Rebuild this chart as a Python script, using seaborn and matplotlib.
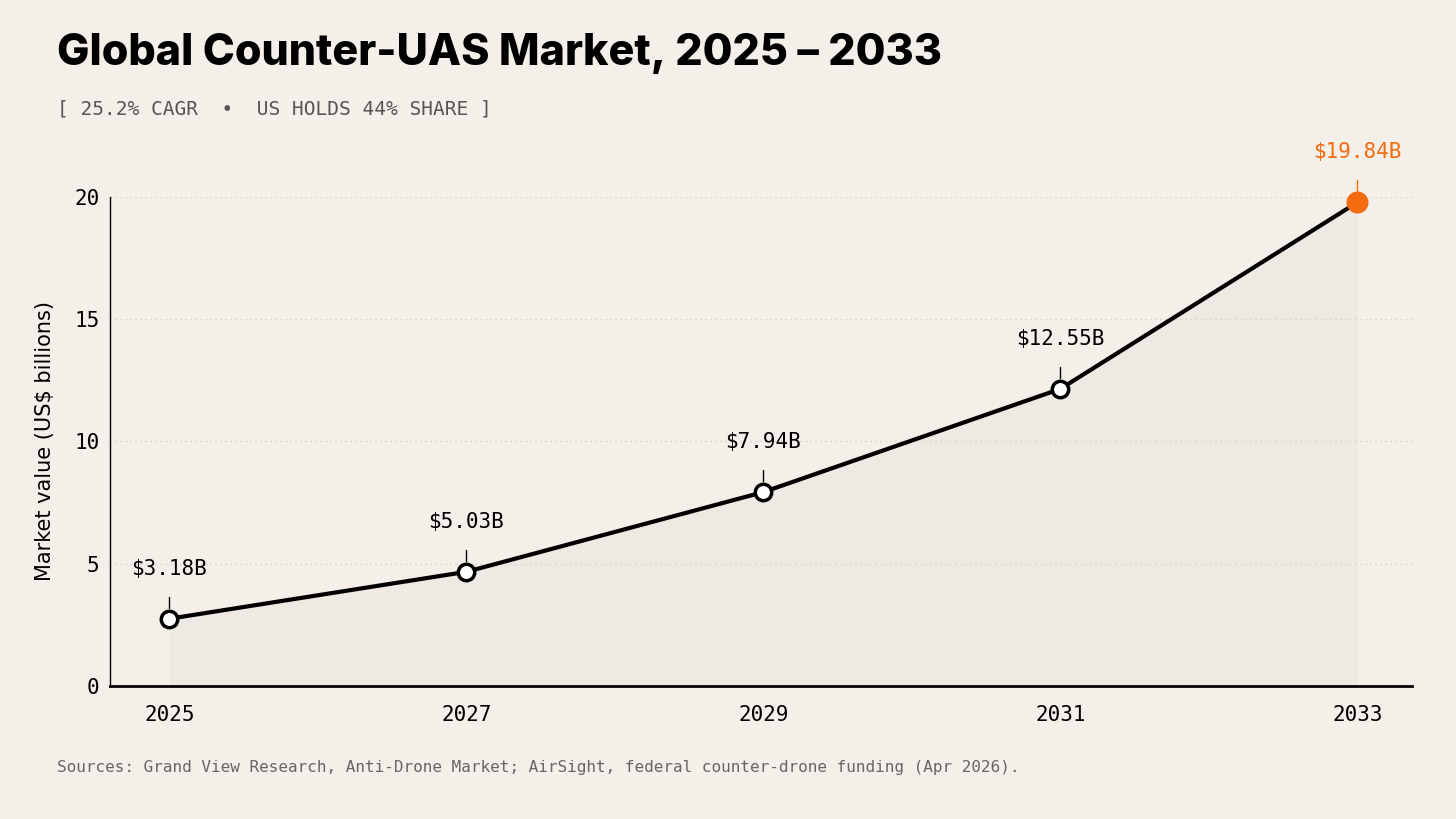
import matplotlib
matplotlib.use("Agg")
import matplotlib.pyplot as plt
import seaborn as sns
import pandas as pd

years = [2025, 2027, 2029, 2031, 2033]
values = [2.75, 4.67, 7.93, 12.15, 19.78]
labels = ["$3.18B", "$5.03B", "$7.94B", "$12.55B", "$19.84B"]
yticks = [0, 5, 10, 15, 20]

bg = "#f4efe8"
orange = "#f26b0f"
mono = "DejaVu Sans Mono"

sns.set_theme(style="white")
plt.rcParams["font.family"] = ["DejaVu Sans"]
plt.rcParams["text.color"] = "black"
plt.rcParams["xtick.color"] = "black"
plt.rcParams["ytick.color"] = "black"
plt.rcParams["axes.labelcolor"] = "black"

df = pd.DataFrame({"year": years, "value": values})

fig = plt.figure(figsize=(14.56, 8.19), dpi=100, facecolor=bg)
ax = fig.add_axes([0.0755, 0.1624, 0.8945, 0.5971])
ax.set_facecolor(bg)

ax.fill_between(df["year"], df["value"], color="#ddd8d2", alpha=0.25, lw=0)
sns.lineplot(data=df, x="year", y="value", ax=ax, color="black", lw=3)
ax.scatter(years[:-1], values[:-1], s=140, facecolor="white", edgecolor="black", linewidth=2.5, zorder=5, clip_on=False)
ax.scatter(years[-1:], values[-1:], s=220, color=orange, zorder=5, clip_on=False)

for i, (x, y, t) in enumerate(zip(years, values, labels)):
    c = orange if i == len(years) - 1 else "black"
    ax.plot([x, x], [y + 0.45, y + 0.9], color=c, lw=1, clip_on=False)
    ax.annotate(t, xy=(x, y), xytext=(0, 40), textcoords="offset pixels",
                ha="center", va="bottom", fontsize=15, family=mono, color=c)

ax.set_xlim(2024.6, 2033.37)
ax.set_ylim(0, 20)
ax.set_xticks(years)
ax.set_yticks(yticks)
ax.tick_params(axis="both", labelsize=15, length=4, color="black", direction="out")
for lab in ax.get_xticklabels() + ax.get_yticklabels():
    lab.set_family(mono)
ax.tick_params(axis="x", pad=10)
for y in yticks[1:]:
    ax.axhline(y, color="#cfc9c2", lw=0.9, ls=(0, (1, 3)), zorder=0)
sns.despine(ax=ax)
ax.spines["left"].set_color("black")
ax.spines["bottom"].set_color("black")
ax.spines["bottom"].set_linewidth(2)
ax.spines["left"].set_linewidth(1)
ax.set_xlabel("")
ax.set_ylabel("Market value (US$ billions)", fontsize=15, labelpad=14)

fig.text(0.039, 0.935, "Global Counter-UAS Market, 2025 – 2033", fontsize=31,
         fontweight="heavy", family="Inter", va="center", color="black")
fig.text(0.039, 0.867, "[ 25.2% CAGR  •  US HOLDS 44% SHARE ]", fontsize=14,
         family=mono, color="#555555", va="center")
fig.text(0.039, 0.063, "Sources: Grand View Research, Anti-Drone Market; AirSight, federal counter-drone funding (Apr 2026).",
         fontsize=11.5, family=mono, color="#666666", va="center")

fig.savefig("out.png", dpi=100, facecolor=bg)
